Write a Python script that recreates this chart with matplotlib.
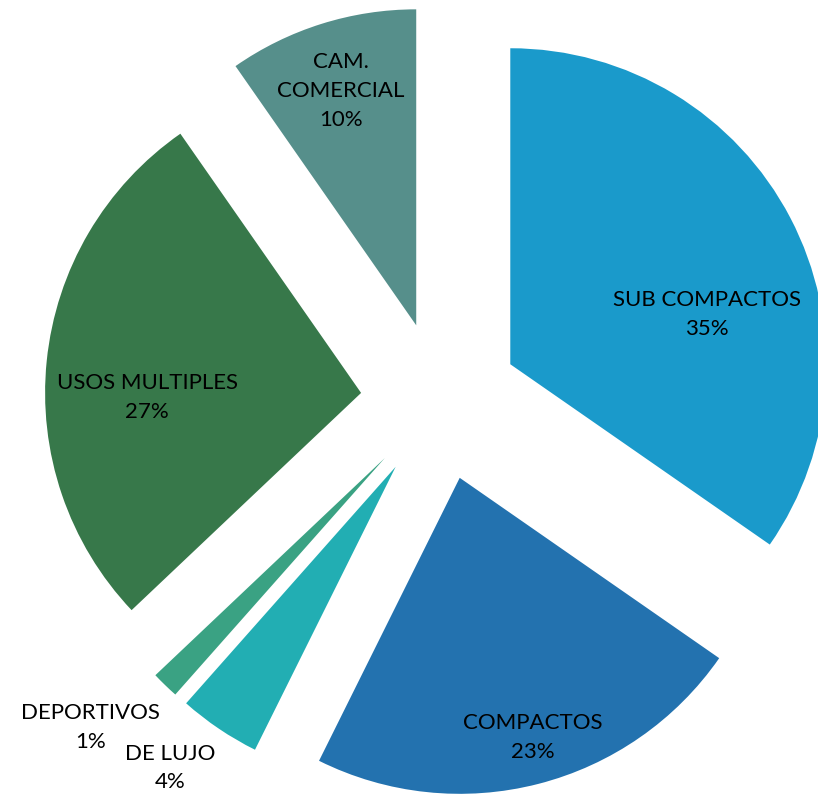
import numpy as np
import matplotlib.pyplot as plt

categories = ["SUB COMPACTOS", "COMPACTOS", "DE LUJO", "DEPORTIVOS",
              "USOS MULTIPLES", "CAM.\nCOMERCIAL"]
shares = [34.7, 22.7, 4.2, 1.4, 27.4, 9.7]
colors = ["#1A9ACB", "#2372AF", "#22AEB3", "#3AA283", "#37784A", "#568F8B"]

# label placement: (radius, angle offset in degrees, clockwise from slice middle)
label_pos = [(0.889, 9.5), (1.103, -1.1), (1.439, 2.4), (1.511, 3.0),
             (0.927, -5.0), (1.033, -0.3)]

W, H = 818, 803
R = 316.0
cx, cy = 440.0, 402.0

fig = plt.figure(figsize=(W / 100, H / 100), dpi=100)
ax = fig.add_axes([0, 0, 1, 1])

explode = [0.251] * len(shares)
wedges, _ = ax.pie(shares, colors=colors, startangle=90, counterclock=False,
                   explode=explode, radius=1.0,
                   wedgeprops=dict(linewidth=0))

total = sum(shares)
start = 0.0
for cat, val, (r, off) in zip(categories, shares, label_pos):
    mid = start + val / total * 360 / 2 + off
    start += val / total * 360
    a = np.deg2rad(mid)
    x, y = r * np.sin(a), r * np.cos(a)
    ax.text(x, y, f"{cat}\n{round(val)}%", ha="center", va="center",
            fontsize=16, family=["Lato", "DejaVu Sans"], color="black",
            linespacing=1.55)

ax.set_xlim(-cx / R, (W - cx) / R)
ax.set_ylim(-(H - cy) / R, cy / R)
ax.set_aspect("equal")
ax.axis("off")

fig.savefig("out.png", dpi=100, facecolor="white")
